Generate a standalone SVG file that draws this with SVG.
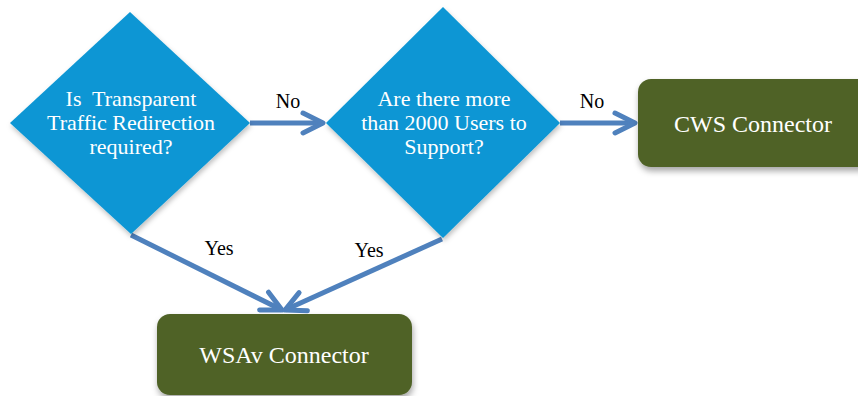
<svg xmlns="http://www.w3.org/2000/svg" width="858" height="396" viewBox="0 0 858 396">
  <style>
    .diamond { fill: #0A96D4; filter: url(#shadowLight); }
    .box { fill: #4F6228; filter: url(#shadow); }
    .qtext { font-family: "Liberation Serif", "Times New Roman", serif; font-size: 22px; fill: #FFFFFF; text-anchor: middle; white-space: pre; }
    .btext { font-family: "Liberation Serif", "Times New Roman", serif; font-size: 24px; fill: #FFFFFF; text-anchor: middle; }
    .label { font-family: "Liberation Serif", "Times New Roman", serif; font-size: 20px; fill: #000000; text-anchor: middle; }
    .conn { stroke: #4F81BD; stroke-width: 5; fill: none; marker-end: url(#arrow); }
  </style>
  <defs>
    <filter id="shadow" x="-20%" y="-20%" width="140%" height="150%">
      <feDropShadow dx="1" dy="4" stdDeviation="3" flood-color="#000000" flood-opacity="0.35"/>
    </filter>
    <filter id="shadowLight" x="-10%" y="-10%" width="120%" height="125%">
      <feDropShadow dx="1" dy="3" stdDeviation="2.5" flood-color="#000000" flood-opacity="0.25"/>
    </filter>
    <marker id="arrow" markerUnits="userSpaceOnUse" viewBox="-24 -14 28 28" refX="0" refY="0" markerWidth="28" markerHeight="28" orient="auto" overflow="visible">
      <path d="M-20,-10 L0,0 L-20,10" fill="none" stroke="#4F81BD" stroke-width="5" stroke-linecap="round" stroke-linejoin="round"/>
    </marker>
  </defs>

  <g id="connectors">
    <line class="conn" x1="250" y1="123" x2="323" y2="123"/>
    <line class="conn" x1="560" y1="123" x2="635" y2="123"/>
    <line class="conn" x1="131" y1="235" x2="282" y2="310"/>
    <line class="conn" x1="442" y1="239" x2="285" y2="310"/>
    <text class="label" x="288" y="108">No</text>
    <text class="label" x="592" y="108">No</text>
    <text class="label" x="219" y="255">Yes</text>
    <text class="label" x="369" y="257">Yes</text>
  </g>

  <g id="q1">
    <polygon class="diamond" points="130,12 250,123 131,234 10,123"/>
    <text class="qtext" x="131" y="106">Is  Transparent</text>
    <text class="qtext" x="131" y="130">Traffic Redirection</text>
    <text class="qtext" x="131" y="154">required?</text>
  </g>

  <g id="q2">
    <polygon class="diamond" points="443,7 560,123 443,238 326,123"/>
    <text class="qtext" x="444" y="106">Are there more</text>
    <text class="qtext" x="444" y="130">than 2000 Users to</text>
    <text class="qtext" x="444" y="154">Support?</text>
  </g>

  <g id="cws">
    <rect class="box" x="638" y="79" width="240" height="88" rx="13" ry="13"/>
    <text class="btext" x="753" y="132">CWS Connector</text>
  </g>

  <g id="wsav">
    <rect class="box" x="157" y="314" width="255" height="81" rx="13" ry="13"/>
    <text class="btext" x="284" y="363">WSAv Connector</text>
  </g>
</svg>
